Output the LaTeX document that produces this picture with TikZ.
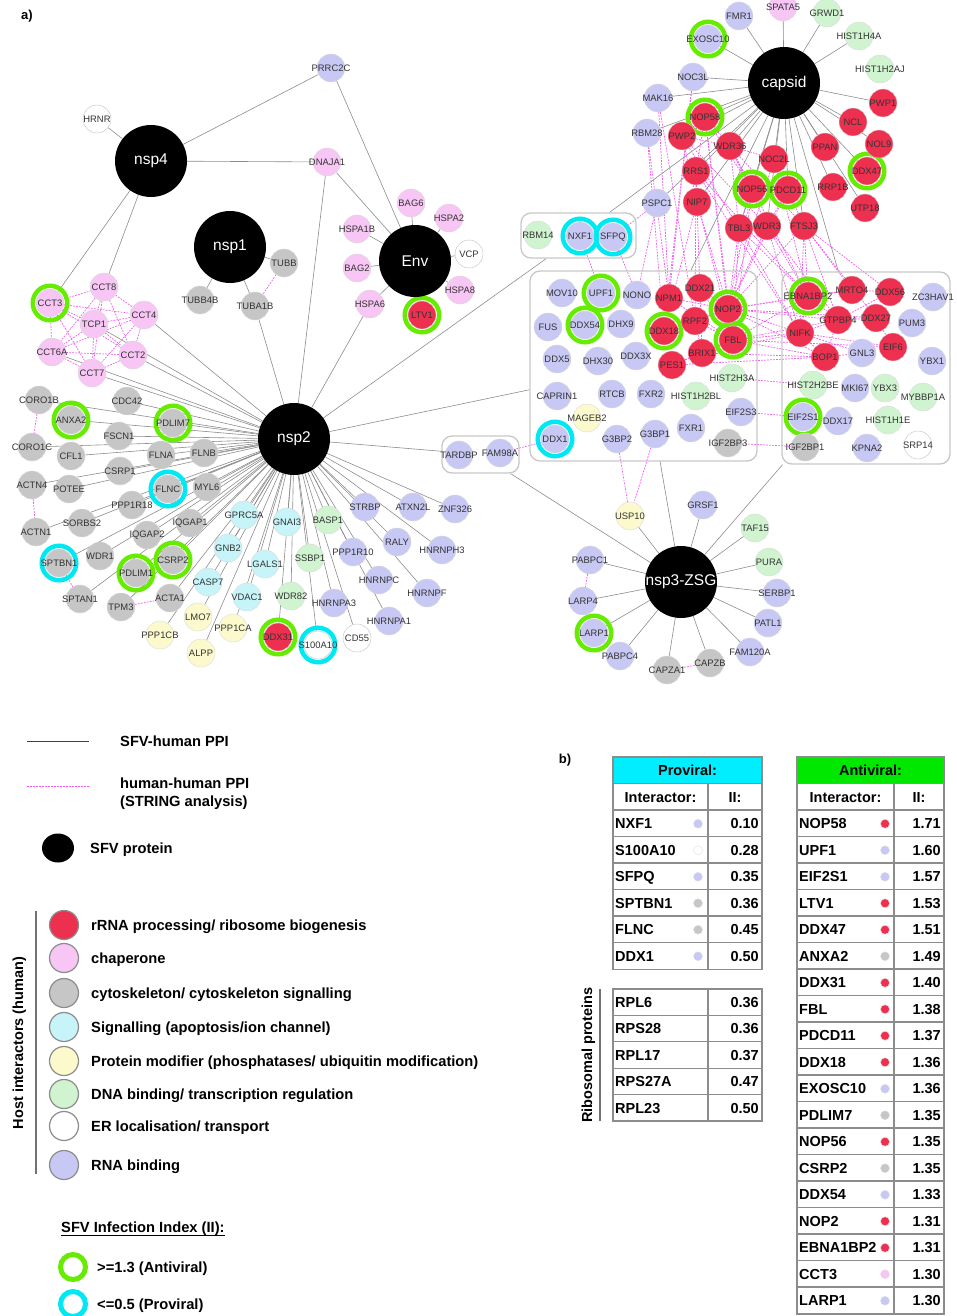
\documentclass[tikz,border=0pt]{standalone}
\usepackage{fontspec}
\setmainfont{Liberation Sans}
\usetikzlibrary{shapes.geometric}
\pgfdeclarelayer{edgel}
\pgfdeclarelayer{ringl}
\pgfsetlayers{edgel,ringl,main}
\definecolor{cR}{RGB}{238,48,80}
\definecolor{cL}{RGB}{200,200,245}
\definecolor{cP}{RGB}{248,198,244}
\definecolor{cG}{RGB}{198,198,198}
\definecolor{cC}{RGB}{198,244,248}
\definecolor{cY}{RGB}{252,250,204}
\definecolor{cD}{RGB}{208,244,208}
\definecolor{cRingG}{RGB}{102,236,0}
\definecolor{cRingC}{RGB}{0,232,242}
\definecolor{cEdge}{RGB}{140,140,140}
\definecolor{cPPI}{RGB}{240,90,240}
\definecolor{cHdrP}{RGB}{0,238,255}
\definecolor{cHdrA}{RGB}{0,232,0}
\definecolor{cTab}{RGB}{140,140,140}
\tikzset{
 prot/.style={circle, minimum size=28pt, inner sep=0pt, draw=black!15, line width=0.4pt, font=\fontsize{9.4}{10}\selectfont, text=black!80},
 nR/.style={prot, fill=cR},
 nL/.style={prot, fill=cL},
 nP/.style={prot, fill=cP},
 nG/.style={prot, fill=cG},
 nC/.style={prot, fill=cC},
 nY/.style={prot, fill=cY},
 nD/.style={prot, fill=cD},
 nW/.style={prot, fill=white, draw=black!25},
 hub/.style={circle, fill=black, minimum size=72pt, inner sep=0pt, text=white, font=\fontsize{15.5}{16}\selectfont},
 sfv/.style={draw=cEdge, line width=0.6pt},
 ppi/.style={draw=cPPI, line width=0.7pt, dash pattern=on 1.8pt off 1.2pt},
 ringA/.style={draw=cRingG, line width=4.5pt},
 ringP/.style={draw=cRingC, line width=4.5pt},
 grp/.style={rectangle, draw=black!22, line width=1.3pt, rounded corners=10pt, inner sep=0pt},
 leg/.style={font=\fontsize{14.7}{16}\selectfont\bfseries, anchor=west, inner sep=0pt, text height=10.4pt, text depth=0pt},
 tabtxt/.style={font=\fontsize{14.5}{16}\selectfont\bfseries, inner sep=0pt, text height=10.4pt, text depth=0pt},
 legc/.style={circle, minimum size=29pt, inner sep=0pt, draw=black!45, line width=1.2pt},
 dot/.style={circle, minimum size=9pt, inner sep=0pt, draw=black!12, line width=0.4pt},
 tabline/.style={draw=cTab, line width=1.3pt},
}
\begin{document}
\begin{tikzpicture}[x=1pt,y=-1pt]
\path[use as bounding box] (0,0) rectangle (957,1316);
\node[font=\fontsize{13}{14}\selectfont\bfseries, inner sep=0pt] (labA) at (27,16) {a)};
\node[font=\fontsize{13}{14}\selectfont\bfseries, inner sep=0pt] (labB) at (565,760) {b)};

% hubs
\node[hub] (nsp4) at (151,161) {\makebox[0pt]{nsp4}};
\node[hub] (nsp1) at (230,247) {\makebox[0pt]{nsp1}};
\node[hub] (Env) at (415,261) {\makebox[0pt]{Env}};
\node[hub] (nsp2) at (294,439) {\makebox[0pt]{nsp2}};
\node[hub] (capsid) at (784,83) {\makebox[0pt]{capsid}};
\node[hub] (nsp3) at (681,582) {\makebox[0pt]{nsp3-ZSG}};

% group boxes
\node[grp, minimum width=115pt, minimum height=45pt] (box1) at (578.5,235.5) {};
\node[grp, minimum width=227pt, minimum height=190pt] (box2) at (643.5,366) {};
\node[grp, minimum width=168pt, minimum height=192pt] (box3) at (866,368) {};
\node[grp, minimum width=77pt, minimum height=37pt] (box4) at (480.5,454.5) {};

% protein nodes
\foreach \n/\x/\y/\s in {
HRNR/97/119/nW, PRRC2C/331/68/nL, DNAJA1/327/162/nP, TUBB/284/263/nG, TUBB4B/200/300/nG, TUBA1B/255/306/nG,
CCT3/50/303/nP, CCT8/104/287/nP, CCT4/144/315/nP, TCP1/94/324/nP, CCT6A/52/352/nP, CCT2/133/355/nP, CCT7/92/373/nP,
BAG6/411/203/nP, HSPA2/449/218/nP, HSPA1B/357/229/nP, VCP/469/254/nW, BAG2/357/268/nP, HSPA8/460/290/nP, HSPA6/370/304/nP, LTV1/422/315/nR,
RBM14/538/235/nD, NXF1/580/236/nL, SFPQ/613/237/nL,
FMR1/739/16/nL, SPATA5/783/7/nP, GRWD1/827/13/nD, HIST1H4A/859/36/nD, HIST1H2AJ/880/69/nD, EXOSC10/708/39/nL, NOC3L/693/77/nL, MAK16/658/98/nL, NOP58/705/117/nR, RBM28/647/133/nL, PWP2/682/136/nR, WDR36/730/146/nR, PWP1/883/103/nR, NCL/853/122/nR, NOL9/879/144/nR, PPAN/825/147/nR, NOC2L/774/159/nR, DDX47/867/171/nR, RRS1/696/171/nR, NOP56/752/189/nR, PDCD11/788/190/nR, RRP1B/833/187/nR, NIP7/697/202/nR, PSPC1/657/203/nL, UTP18/865/208/nR, TBL3/739/228/nR, WDR3/767/226/nR, FTSJ3/804/226/nR,
MOV10/562/293/nL, UPF1/601/293/nL, NONO/637/295/nL, NPM1/669/298/nR, DDX21/700/288/nR, NOP2/728/309/nR, FUS/548/327/nL, DDX54/585/325/nL, DHX9/621/324/nL, DDX18/664/331/nR, RPF2/695/321/nR, FBL/733/340/nR, DDX5/557/359/nL, DHX30/598/361/nL, DDX3X/636/356/nL, PES1/672/365/nR, BRIX1/702/353/nR, HIST2H3A/732/378/nD, CAPRIN1/557/396/nL, RTCB/612/394/nL, FXR2/651/394/nL, HIST1H2BL/696/396/nD, MAGEB2/587/418/nY, EIF2S3/741/412/nL, DDX1/555/439/nL, G3BP2/617/439/nL, G3BP1/655/434/nL, FXR1/691/428/nL, IGF2BP3/728/443/nG,
EBNA1BP2/808/296/nR, MRTO4/852/290/nR, DDX56/890/292/nR, ZC3HAV1/933/297/nL, GTPBP4/838/320/nR, DDX27/876/318/nR, PUM3/912/323/nL, NIFK/800/333/nR, EIF6/893/347/nR, BOP1/825/357/nR, GNL3/862/353/nL, YBX1/932/361/nL, HIST2H2BE/813/385/nD, MKI67/855/388/nL, YBX3/885/388/nD, MYBBP1A/923/397/nD, EIF2S1/803/417/nL, DDX17/838/421/nL, HIST1H1E/888/420/nD, IGF2BP1/805/447/nG, KPNA2/867/448/nL, SRP14/918/445/nW,
CORO1B/39/400/nG, CDC42/127/401/nG, ANXA2/71/420/nG, PDLIM7/173/423/nG, FSCN1/119/436/nG, CORO1C/32/447/nG, CFL1/71/456/nG, FLNA/161/455/nG, FLNB/204/453/nG, CSRP1/120/471/nG, ACTN4/32/485/nG, POTEE/69/489/nG, FLNC/168/489/nG, MYL6/207/487/nG, PPP1R18/132/505/nG, SORBS2/82/523/nG, ACTN1/36/532/nG, IQGAP1/190/523/nG, GPRC5A/244/515/nC, GNAI3/287/522/nC, IQGAP2/147/535/nG, SPTBN1/59/563/nG, WDR1/100/556/nG, PDLIM1/136/573/nG, CSRP2/173/560/nG, GNB2/228/548/nC, LGALS1/265/564/nC, SSBP1/310/558/nD, CASP7/208/582/nC, SPTAN1/80/599/nG, TPM3/121/607/nG, ACTA1/170/598/nG, VDAC1/247/597/nC, WDR82/291/596/nD, LMO7/198/617/nY, PPP1CB/160/635/nY, PPP1CA/233/628/nY, DDX31/278/637/nR, ALPP/201/653/nY, S100A10/318/645/nW, CD55/357/638/nW,
BASP1/328/520/nD, STRBP/365/507/nL, ATXN2L/413/507/nL, ZNF326/455/509/nL, PPP1R10/353/552/nL, RALY/397/542/nL, HNRNPH3/442/550/nL, HNRNPC/379/580/nL, HNRNPF/427/593/nL, HNRNPA3/334/603/nL, HNRNPA1/389/621/nL, TARDBP/459/455/nL, FAM98A/500/453/nL,
PABPC1/590/560/nL, LARP4/583/601/nL, LARP1/594/633/nL, PABPC4/620/656/nL, USP10/630/516/nY, GRSF1/703/505/nL, TAF15/755/528/nD, PURA/769/562/nD, SERBP1/777/593/nL, PATL1/768/623/nL, FAM120A/750/652/nL, CAPZB/710/663/nG, CAPZA1/667/670/nG}
  \node[\s] (\n) at (\x,\y) {\makebox[0pt]{\n}};

% rings
\begin{pgfonlayer}{ringl}
\foreach \n in {CCT3, LTV1, EXOSC10, NOP58, DDX47, NOP56, PDCD11, UPF1, DDX54, DDX18, NOP2, FBL, EBNA1BP2, EIF2S1, ANXA2, PDLIM7, PDLIM1, CSRP2, DDX31, LARP1}
  \draw[ringA] (\n.center) circle (17.25pt);
\foreach \n in {NXF1, SFPQ, DDX1, FLNC, SPTBN1, S100A10}
  \draw[ringP] (\n.center) circle (17.25pt);
\end{pgfonlayer}

% edges
\begin{pgfonlayer}{edgel}
\foreach \b in {HRNR, PRRC2C, DNAJA1, CCT3, CCT8} \draw[sfv] (nsp4) -- (\b);
\foreach \b in {TUBB, TUBB4B, TUBA1B} \draw[sfv] (nsp1) -- (\b);
\foreach \b in {BAG6, HSPA2, HSPA1B, VCP, BAG2, HSPA8, HSPA6, LTV1, PRRC2C, DNAJA1} \draw[sfv] (Env) -- (\b);
\foreach \b in {TCP1, CCT4, CCT2, CCT7, CCT6A, CORO1B, CDC42, ANXA2, PDLIM7, FSCN1, CORO1C, CFL1, FLNA, FLNB, CSRP1, ACTN4, POTEE, FLNC, MYL6, PPP1R18, SORBS2, ACTN1, IQGAP1, GPRC5A, GNAI3, IQGAP2, SPTBN1, WDR1, PDLIM1, CSRP2, GNB2, LGALS1, SSBP1, CASP7, SPTAN1, TPM3, ACTA1, VDAC1, WDR82, LMO7, PPP1CB, PPP1CA, DDX31, ALPP, S100A10, CD55, BASP1, STRBP, ATXN2L, ZNF326, PPP1R10, RALY, HNRNPH3, HNRNPC, HNRNPF, HNRNPA3, HNRNPA1, TUBA1B, DNAJA1, HSPA6, box1, box2, box4} \draw[sfv] (nsp2) -- (\b);
\foreach \b in {FMR1, SPATA5, GRWD1, HIST1H4A, EXOSC10, NOC3L, MAK16, NOP58, RBM28, PWP2, WDR36, PWP1, NCL, NOL9, PPAN, NOC2L, DDX47, RRS1, NOP56, PDCD11, RRP1B, NIP7, PSPC1, UTP18, TBL3, WDR3, FTSJ3, box1, box2, box3} \draw[sfv] (capsid) -- (\b);
\foreach \b in {USP10, GRSF1, TAF15, PURA, SERBP1, PATL1, FAM120A, CAPZB, CAPZA1, PABPC4, LARP1, LARP4, PABPC1, box2, box3, box4} \draw[sfv] (nsp3) -- (\b);
\foreach \a/\b in {CCT3/CCT8, CCT3/CCT4, CCT3/TCP1, CCT3/CCT6A, CCT3/CCT2, CCT3/CCT7, CCT8/CCT4, CCT8/TCP1, CCT8/CCT6A, CCT8/CCT2, CCT8/CCT7, CCT4/TCP1, CCT4/CCT6A, CCT4/CCT2, CCT4/CCT7, TCP1/CCT6A, TCP1/CCT2, TCP1/CCT7, CCT6A/CCT2, CCT6A/CCT7, CCT2/CCT7,
TUBB/TUBA1B, CORO1B/CORO1C, ACTN4/ACTN1, SPTBN1/SPTAN1, TPM3/ACTA1,
DDX1/FAM98A, G3BP2/USP10, G3BP1/USP10, PABPC1/LARP4, CAPZA1/CAPZB,
NXF1/UPF1, SFPQ/NONO, PSPC1/SFPQ, PSPC1/NONO,
HIST2H3A/HIST2H2BE, EIF2S3/EIF2S1, IGF2BP3/IGF2BP1, PES1/BOP1, BOP1/GNL3,
NOC3L/NPM1, NOC3L/DDX18, MAK16/RPF2, MAK16/NPM1, RBM28/DDX18, RBM28/NPM1,
NOP58/NOP56, NOP58/FBL, NOP58/NOP2, NOP58/RRS1, NOP58/WDR36, NOP58/PWP2,
PWP2/WDR36, PWP2/TBL3, PWP2/WDR3, PWP2/NIP7,
WDR36/TBL3, WDR36/WDR3, WDR36/NOP56, WDR36/FTSJ3, WDR36/EBNA1BP2,
NOP56/FBL, NOP56/NOP2, NOP56/PDCD11, NOP56/TBL3,
PDCD11/WDR3, PDCD11/FTSJ3, PDCD11/NOP2,
NOC2L/EBNA1BP2, NOC2L/NOP2, NOC2L/WDR36,
RRS1/RPF2, RRS1/BRIX1, RRS1/NIFK, RRS1/EBNA1BP2,
NIP7/NOP2, NIP7/FBL, NIP7/DDX18,
TBL3/NOP2, TBL3/FBL, TBL3/EBNA1BP2, TBL3/NIFK,
WDR3/NOP2, WDR3/EBNA1BP2, WDR3/GTPBP4, WDR3/NIFK,
FTSJ3/EBNA1BP2, FTSJ3/GTPBP4, FTSJ3/DDX27, FTSJ3/MRTO4, FTSJ3/NOP2, FTSJ3/NIFK, FTSJ3/DDX56,
NPM1/NOP2, NPM1/FBL, DDX21/NOP2, DDX21/FBL, RPF2/NOP2, RPF2/BRIX1, RPF2/FBL, DDX18/NOP2, BRIX1/FBL, BRIX1/NIFK, PES1/FBL, PES1/BRIX1,
NOP2/FBL, NOP2/EBNA1BP2, NOP2/GTPBP4, NOP2/NIFK, NOP2/MRTO4, NOP2/DDX27, NOP2/BOP1,
FBL/NIFK, FBL/EBNA1BP2, FBL/BOP1, FBL/GTPBP4, FBL/EIF6,
EBNA1BP2/MRTO4, EBNA1BP2/GTPBP4, EBNA1BP2/NIFK, GTPBP4/NIFK, GTPBP4/BOP1, GTPBP4/DDX27, DDX27/EIF6, MRTO4/DDX56, DDX56/GTPBP4, NIFK/BOP1, NIFK/EIF6, NIFK/GNL3, BRIX1/BOP1}
  \draw[ppi] (\a) -- (\b);
\end{pgfonlayer}

% legend
\coordinate (la1) at (27,741); \coordinate (la2) at (89,741);
\draw[draw=black!75, line width=0.8pt] (la1) -- (la2);
\node[leg] (lt1) at (120,741) {SFV-human PPI};
\coordinate (lb1) at (27,786); \coordinate (lb2) at (89,786);
\draw[ppi, line width=0.9pt] (lb1) -- (lb2);
\node[leg] (lt2) at (120,783) {human-human PPI};
\node[leg] (lt2b) at (120,801) {(STRING analysis)};
\node[ellipse, fill=black, minimum width=32pt, minimum height=29pt, inner sep=0pt] (lsfv) at (58,848) {};
\node[leg] (lt3) at (90,848) {SFV protein};
\coordinate (lv1) at (36,911); \coordinate (lv2) at (36,1174);
\draw[draw=black!55, line width=1.2pt] (lv1) -- (lv2);
\node[tabtxt, rotate=90] (host) at (18,1043) {Host interactors (human)};
\foreach \c/\y/\t [count=\i] in {cR/925/{rRNA processing/ ribosome biogenesis}, cP/958/chaperone, cG/993/{cytoskeleton/ cytoskeleton signalling}, cC/1027/{Signalling (apoptosis/ion channel)}, cY/1061/{Protein modifier (phosphatases/ ubiquitin modification)}, cD/1094/{DNA binding/ transcription regulation}, white/1126/{ER localisation/ transport}, cL/1165/{RNA binding}} {
  \node[legc, fill=\c] (lc\i) at (64,\y) {};
  \node[leg] (lct\i) at (91,\y) {\t};
}
\node[leg] (sii) at (61,1227) {SFV Infection Index (II):};
\draw[line width=1pt] ([yshift=-3.5pt]sii.south west) -- ([yshift=-3.5pt]sii.south east);
\node[circle, draw=cRingG, line width=5pt, minimum size=25pt, inner sep=0pt] (lrg) at (73,1267) {};
\node[leg] (lrgt) at (97,1267) {>=1.3 (Antiviral)};
\node[circle, draw=cRingC, line width=5pt, minimum size=25pt, inner sep=0pt] (lrc) at (73,1304) {};
\node[leg] (lrct) at (97,1304) {<=0.5 (Proviral)};

% proviral table
\fill[cHdrP] (613,757) rectangle (762,784);
\node[tabtxt] (pvh) at (687.5,770.5) {Proviral:};
\node[tabtxt] (pvi) at (660.5,797.25) {Interactor:};
\node[tabtxt] (pvii) at (735,797.25) {II:};
\foreach \nm/\c/\v [count=\i] in {NXF1/cL/0.10, S100A10/white/0.28, SFPQ/cL/0.35, SPTBN1/cG/0.36, FLNC/cG/0.45, DDX1/cL/0.50} {
  \pgfmathsetmacro\yy{797.25+26.5*\i}
  \node[tabtxt, anchor=west] (pn\i) at (615,\yy) {\nm};
  \node[dot, fill=\c] (pd\i) at (698,\yy) {};
  \node[tabtxt, anchor=east] (pv\i) at (759,\yy) {\v};
}
\foreach \k in {1,...,7} \draw[tabline] (613,{757+26.5*\k}) -- (762,{757+26.5*\k});
\draw[tabline] (708,784) -- (708,969.5);
\draw[tabline] (613,757) rectangle (762,969.5);

% ribosomal table
\foreach \nm/\v [count=\i] in {RPL6/0.36, RPS28/0.36, RPL17/0.37, RPS27A/0.47, RPL23/0.50} {
  \pgfmathsetmacro\yy{989+26.4*\i-13.2}
  \node[tabtxt, anchor=west] (rn\i) at (615,\yy) {\nm};
  \node[tabtxt, anchor=east] (rv\i) at (759,\yy) {\v};
}
\foreach \k in {1,...,4} \draw[tabline] (613,{989+26.4*\k}) -- (762,{989+26.4*\k});
\draw[tabline] (708,989) -- (708,1121);
\draw[tabline] (613,989) rectangle (762,1121);
\coordinate (rl1) at (600,989); \coordinate (rl2) at (600,1121);
\draw[draw=black!55, line width=1.2pt] (rl1) -- (rl2);
\node[tabtxt, rotate=90] (ribo) at (587,1055) {Ribosomal proteins};

% antiviral table
\fill[cHdrA] (797,757) rectangle (944,784);
\node[tabtxt] (avh) at (870.5,770.5) {Antiviral:};
\node[tabtxt] (avi) at (845.5,797.25) {Interactor:};
\node[tabtxt] (avii) at (919,797.25) {II:};
\foreach \nm/\c/\v [count=\i] in {NOP58/cR/1.71, UPF1/cL/1.60, EIF2S1/cL/1.57, LTV1/cR/1.53, DDX47/cR/1.51, ANXA2/cG/1.49, DDX31/cR/1.40, FBL/cR/1.38, PDCD11/cR/1.37, DDX18/cR/1.36, EXOSC10/cL/1.36, PDLIM7/cG/1.35, NOP56/cR/1.35, CSRP2/cG/1.35, DDX54/cL/1.33, NOP2/cR/1.31, EBNA1BP2/cR/1.31, CCT3/cP/1.30, LARP1/cL/1.30} {
  \pgfmathsetmacro\yy{797.25+26.5*\i}
  \node[tabtxt, anchor=west] (an\i) at (799,\yy) {\nm};
  \node[dot, fill=\c] (ad\i) at (885,\yy) {};
  \node[tabtxt, anchor=east] (av\i) at (941,\yy) {\v};
}
\foreach \k in {1,...,20} \draw[tabline] (797,{757+26.5*\k}) -- (944,{757+26.5*\k});
\draw[tabline] (894,784) -- (894,1314);
\draw[tabline] (797,757) rectangle (944,1314);
\end{tikzpicture}
\end{document}
